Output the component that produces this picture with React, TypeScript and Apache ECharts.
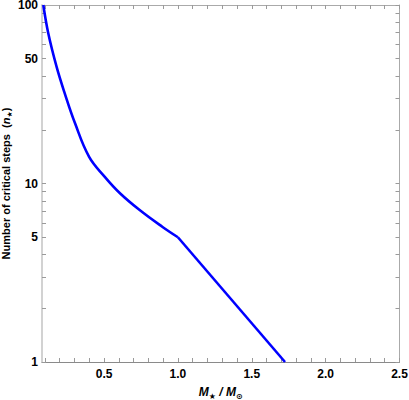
import React, { useEffect, useRef } from "react";
import * as echarts from "echarts";

const massValues = [0.089, 0.122, 0.179, 0.235, 0.303, 0.399, 0.505, 0.606, 0.741, 0.896, 1.0];
const stepValues = [100, 69.7, 45, 31.8, 21.8, 14.1, 10.9, 8.85, 7.1, 5.71, 5.0];
const tailMass = [1.0, 1.725];
const tailSteps = [5.0, 1.0];

const xLabelValues = [0.5, 1.0, 1.5, 2.0, 2.5];
const xTickValues = [0.1, 0.2, 0.3, 0.4, 0.5, 0.6, 0.7, 0.8, 0.9, 1.0, 1.1, 1.2, 1.3, 1.4, 1.5, 1.6, 1.7, 1.8, 1.9, 2.0, 2.1, 2.2, 2.3, 2.4, 2.5];
const yLabelValues = [1, 5, 10, 50, 100];
const yTickValues = [1, 2, 3, 4, 5, 6, 7, 8, 9, 10, 20, 30, 40, 50, 60, 70, 80, 90, 100];

const FONT = "Liberation Sans";

export default function App() {
  const ref = useRef<HTMLDivElement>(null);
  useEffect(() => {
    document.body.style.margin = "0";
    const chart = echarts.init(ref.current!, null, { renderer: "svg" });
    const tickStyle = { color: "#9a9a9a", width: 1 };
    chart.setOption({
      animation: false,
      backgroundColor: "#ffffff",
      grid: { left: 42, right: 9.5, top: 5, bottom: 38, containLabel: false, outerBoundsMode: "none" },
      xAxis: [
        {
          type: "value",
          position: "bottom",
          min: 0.08,
          max: 2.5,
          splitLine: { show: false },
          axisLine: { show: true, lineStyle: { color: "#8a8a8a", width: 1 } },
          axisTick: { show: true, inside: true, length: 4, lineStyle: tickStyle, customValues: xTickValues },
          axisLabel: {
            show: true,
            customValues: xLabelValues,
            formatter: (v: number) => v.toFixed(1),
            fontFamily: FONT,
            fontWeight: "bold",
            fontSize: 12,
            color: "#000",
            margin: 6,
          },
          name: "{m|M}{s|★}{m| / M}{s|⊙}",
          nameLocation: "middle",
          nameGap: 22,
          nameMoveOverlap: false,
          nameTextStyle: {
            rich: {
              m: { fontFamily: FONT, fontWeight: "bold", fontStyle: "italic", fontSize: 12, color: "#000", lineHeight: 16 },
              s: { fontFamily: "DejaVu Sans", fontWeight: "bold", fontSize: 8, color: "#000", lineHeight: 8, verticalAlign: "bottom" },
            },
          },
        },
        {
          type: "value",
          position: "top",
          min: 0.08,
          max: 2.5,
          splitLine: { show: false },
          axisLine: { show: true, lineStyle: { color: "#aaaaaa", width: 1 } },
          axisTick: { show: true, inside: true, length: 4, lineStyle: tickStyle, customValues: xTickValues },
          axisLabel: { show: false },
        },
      ],
      yAxis: [
        {
          type: "log",
          logBase: 10,
          position: "left",
          min: 1,
          max: 100,
          splitLine: { show: false },
          minorTick: { show: false },
          axisLine: { show: true, lineStyle: { color: "#d2d2d2", width: 2 } },
          axisTick: { show: true, inside: true, length: 4, lineStyle: tickStyle, customValues: yTickValues },
          axisLabel: {
            show: true,
            customValues: yLabelValues,
            formatter: (v: number) => String(Math.round(v)),
            fontFamily: FONT,
            fontWeight: "bold",
            fontSize: 12,
            lineHeight: 10,
            color: "#000",
            margin: 4,
          },
          name: "{a|Number of critical steps  (}{i|n}{s|★}{a|)}",
          nameLocation: "middle",
          nameGap: 29,
          nameRotate: 90,
          nameMoveOverlap: false,
          nameTextStyle: {
            rich: {
              a: { fontFamily: FONT, fontWeight: "bold", fontSize: 11, color: "#000", lineHeight: 15 },
              i: { fontFamily: FONT, fontWeight: "bold", fontStyle: "italic", fontSize: 11, color: "#000", lineHeight: 15 },
              s: { fontFamily: "DejaVu Sans", fontWeight: "bold", fontSize: 7, color: "#000", lineHeight: 7, verticalAlign: "bottom" },
            },
          },
        },
        {
          type: "log",
          logBase: 10,
          position: "right",
          min: 1,
          max: 100,
          splitLine: { show: false },
          minorTick: { show: false },
          axisLine: { show: true, lineStyle: { color: "#aaaaaa", width: 1 } },
          axisTick: { show: true, inside: true, length: 4, lineStyle: tickStyle, customValues: yTickValues },
          axisLabel: { show: false },
        },
      ],
      series: [
        {
          type: "line",
          xAxisIndex: 0,
          yAxisIndex: 0,
          data: massValues.map((m, i) => [m, stepValues[i]]),
          smooth: 0.4,
          showSymbol: false,
          clip: true,
          lineStyle: { color: "#0000ff", width: 2.6 },
        },
        {
          type: "line",
          xAxisIndex: 0,
          yAxisIndex: 0,
          data: tailMass.map((m, i) => [m, tailSteps[i]]),
          showSymbol: false,
          clip: true,
          lineStyle: { color: "#0000ff", width: 2.6 },
        },
      ],
    });
    return () => chart.dispose();
  }, []);
  return <div ref={ref} style={{ width: 409, height: 400 }} />;
}
